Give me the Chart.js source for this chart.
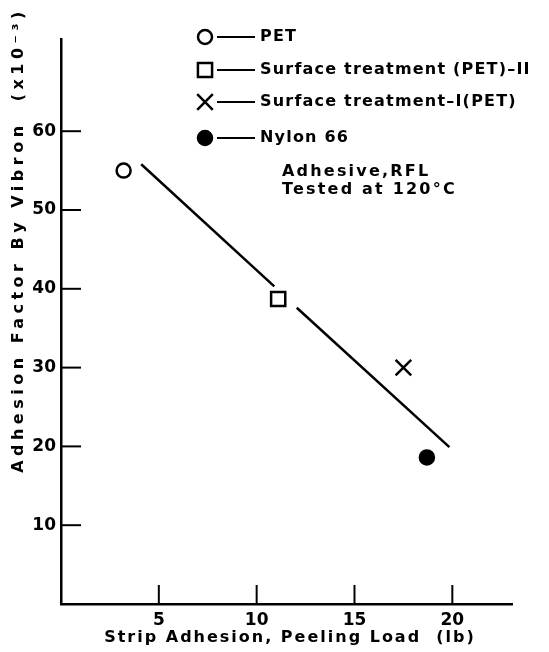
<!DOCTYPE html>
<html>
<head>
<meta charset="utf-8">
<script src="https://cdn.jsdelivr.net/npm/chart.js@4.4.1/dist/chart.umd.min.js"></script>
<style>
  body { margin: 0; background: #fff; }
  #wrap { width: 549px; height: 652px; }
</style>
</head>
<body>
<div id="wrap"><canvas id="adhesionChart" width="549" height="652"></canvas></div>
<script>
// values
const seriesNames = ["PET", "Surface treatment (PET)\u2013II", "Surface treatment\u2013I(PET)", "Nylon 66"];
const seriesStyles = ["circle", "rect", "crossRot", "circle"];
const seriesFilled = [false, false, false, true];
const loadX = [3.2, 11.1, 17.5, 18.7];
const factorY = [55, 38.7, 30, 18.6];
// fitted line, broken where it passes the square
const fitX = [4.1, 10.9, 11.5, 12.05, 19.85];
const fitY = [55.8, 40.3, null, 37.6, 19.9];
const xTicks = [5, 10, 15, 20];
const yTicks = [10, 20, 30, 40, 50, 60];
const noteLines = ["Adhesive,RFL", "Tested at 120\u00B0C"];
const xTitle = "Strip Adhesion, Peeling Load  (lb)";
const yTitle = "Adhesion Factor By Vibron  (x10\u207B\u00B3)";

const FONT = "'DejaVu Sans', sans-serif";
const markerSize = { circle: 7, rect: 10, crossRot: 11 };

function spacedText(ctx, text, x, y, size, spacing, align) {
  ctx.save();
  ctx.font = "bold " + size + "px " + FONT;
  ctx.letterSpacing = spacing + "px";
  ctx.textAlign = align || "left";
  ctx.textBaseline = "middle";
  ctx.fillStyle = "#000";
  ctx.fillText(text, x, y);
  ctx.restore();
}

// inward tick marks, titles, legend and note
const decorations = {
  id: "decorations",
  afterDraw(chart) {
    const ctx = chart.ctx;
    const xs = chart.scales.x;
    const ys = chart.scales.y;
    const area = chart.chartArea;

    ctx.save();
    ctx.strokeStyle = "#000";
    ctx.lineWidth = 2;
    yTicks.forEach((v) => {
      const py = ys.getPixelForValue(v);
      ctx.beginPath();
      ctx.moveTo(area.left, py);
      ctx.lineTo(area.left + 20, py);
      ctx.stroke();
    });
    xTicks.forEach((v) => {
      const px = xs.getPixelForValue(v);
      ctx.beginPath();
      ctx.moveTo(px, area.bottom);
      ctx.lineTo(px, area.bottom - 19);
      ctx.stroke();
    });
    ctx.restore();

    // axis titles
    spacedText(ctx, xTitle, 290, 638, 16, 2, "center");
    ctx.save();
    ctx.translate(19, 240);
    ctx.rotate(-Math.PI / 2);
    spacedText(ctx, yTitle, 0, 0, 16, 4.5, "center");
    ctx.restore();

    // legend
    const rows = [37, 70, 102, 138];
    seriesNames.forEach((name, i) => {
      const y = rows[i];
      ctx.save();
      ctx.strokeStyle = "#000";
      ctx.fillStyle = seriesFilled[i] ? "#000" : "#fff";
      ctx.lineWidth = 2.5;
      Chart.helpers.drawPoint(ctx, {
        pointStyle: seriesStyles[i],
        radius: markerSize[seriesStyles[i]],
        borderWidth: 2.5,
        rotation: 0
      }, 205, y);
      ctx.lineWidth = 2;
      ctx.beginPath();
      ctx.moveTo(217, y);
      ctx.lineTo(255, y);
      ctx.stroke();
      ctx.restore();
      spacedText(ctx, name, 260, y, 16, 1.2, "left");
    });

    noteLines.forEach((line, i) => {
      spacedText(ctx, line, 282, 172 + i * 18, 16, 2.2, "left");
    });
  }
};

const datasets = seriesNames.map((name, i) => ({
  type: "scatter",
  label: name,
  data: [{ x: loadX[i], y: factorY[i] }],
  pointStyle: seriesStyles[i],
  pointRadius: markerSize[seriesStyles[i]],
  pointBorderWidth: 2.5,
  pointBorderColor: "#000",
  pointBackgroundColor: seriesFilled[i] ? "#000" : "#fff"
}));

datasets.push({
  type: "line",
  label: "fit",
  data: fitX.map((x, i) => ({ x: x, y: fitY[i] })),
  borderColor: "#000",
  borderWidth: 2.5,
  pointRadius: 0,
  spanGaps: false,
  fill: false
});

new Chart(document.getElementById("adhesionChart"), {
  data: { datasets: datasets },
  options: {
    responsive: false,
    animation: false,
    layout: { padding: { top: 39, right: 37, left: 0, bottom: 0 } },
    plugins: {
      legend: { display: false },
      tooltip: { enabled: false }
    },
    scales: {
      x: {
        type: "linear",
        min: 0,
        max: 23.05,
        afterFit: (s) => { s.height = 48; },
        afterBuildTicks: (s) => { s.ticks = xTicks.map((v) => ({ value: v })); },
        grid: { drawOnChartArea: false, drawTicks: false },
        border: { display: true, color: "#000", width: 2.5 },
        ticks: {
          padding: 6,
          color: "#000",
          font: { family: FONT, size: 17, weight: "bold" }
        }
      },
      y: {
        type: "linear",
        min: 0,
        max: 71.7,
        afterFit: (s) => { s.width = 61; },
        afterBuildTicks: (s) => { s.ticks = yTicks.map((v) => ({ value: v })); },
        grid: { drawOnChartArea: false, drawTicks: false },
        border: { display: true, color: "#000", width: 2.5 },
        ticks: {
          padding: 5,
          color: "#000",
          font: { family: FONT, size: 17, weight: "bold" }
        }
      }
    }
  },
  plugins: [decorations]
});
</script>
</body>
</html>
